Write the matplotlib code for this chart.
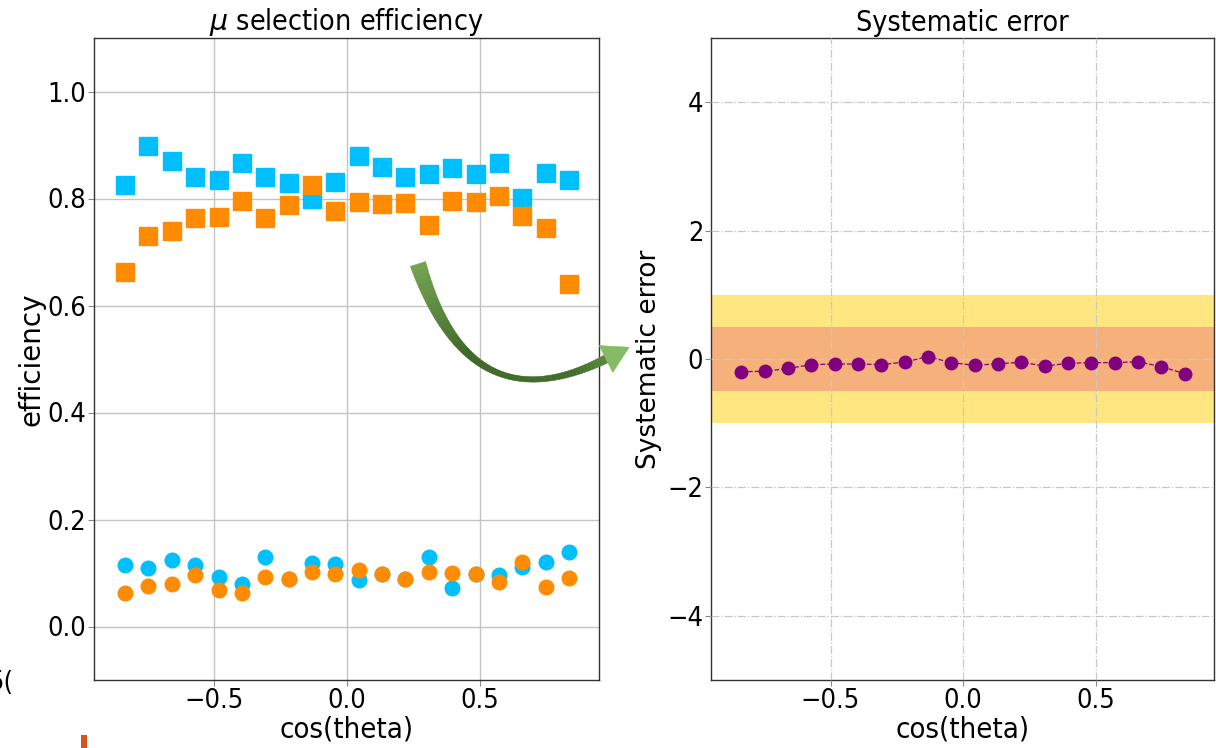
import os
import numpy as np
import matplotlib
matplotlib.use("Agg")
import matplotlib.pyplot as plt
from matplotlib import font_manager
from matplotlib.font_manager import FontProperties
from matplotlib.patches import Rectangle, Polygon
from matplotlib.colors import to_rgb

# ---------------- data ----------------
cos_theta = [-0.836, -0.748, -0.660, -0.572, -0.484, -0.396, -0.308, -0.220, -0.132, -0.044,
             0.044, 0.132, 0.220, 0.308, 0.396, 0.484, 0.572, 0.660, 0.748, 0.836]

eff_blue_squares = [0.826, 0.898, 0.871, 0.840, 0.835, 0.866, 0.840, 0.829, 0.799, 0.830,
                    0.880, 0.858, 0.840, 0.845, 0.857, 0.845, 0.867, 0.801, 0.848, 0.835]
eff_orange_squares = [0.662, 0.730, 0.740, 0.764, 0.766, 0.795, 0.763, 0.787, 0.825, 0.777,
                      0.793, 0.790, 0.791, 0.751, 0.796, 0.793, 0.804, 0.767, 0.745, 0.641]
eff_blue_circles = [0.115, 0.109, 0.125, 0.115, 0.092, 0.080, 0.130, 0.088, 0.119, 0.117,
                    0.087, 0.098, 0.088, 0.130, 0.072, 0.098, 0.097, 0.112, 0.120, 0.139]
eff_orange_circles = [0.062, 0.076, 0.079, 0.096, 0.069, 0.063, 0.092, 0.088, 0.102, 0.099,
                      0.105, 0.099, 0.088, 0.102, 0.100, 0.099, 0.084, 0.120, 0.074, 0.090]

systematic_error = [-0.197, -0.192, -0.146, -0.088, -0.078, -0.078, -0.088, -0.047, 0.037, -0.057,
                    -0.099, -0.073, -0.052, -0.109, -0.068, -0.057, -0.057, -0.042, -0.119, -0.229]

band_outer = (-1.0, 1.0)
band_inner = (-0.5, 0.5)

x_ticks = [-0.5, 0.0, 0.5]
eff_ticks = [0.0, 0.2, 0.4, 0.6, 0.8, 1.0]
sys_ticks = [-4, -2, 0, 2, 4]

# ---------------- fonts ----------------
cond_path = None
for f in font_manager.fontManager.ttflist:
    if os.path.basename(f.fname) == "DejaVuSansCondensed.ttf":
        cond_path = f.fname
        break
if cond_path:
    def fp(size):
        return FontProperties(fname=cond_path, size=size)
    TICK, TITLE, XL = 19.5, 20.5, 21
else:
    def fp(size):
        return FontProperties(family="DejaVu Sans", size=size)
    TICK, TITLE, XL = 18, 19, 19

BLUE = "#00BFFF"
ORANGE = "#FF8C00"
PURPLE = "#800080"

W, H = 1216, 748
fig = plt.figure(figsize=(W / 100, H / 100), dpi=100)
fig.patch.set_facecolor("white")

ax1 = fig.add_axes([94 / W, 68 / H, 505 / W, 642 / H])
ax2 = fig.add_axes([711 / W, 68 / H, 503 / W, 642 / H])

# ---------------- left panel ----------------
ax1.plot(cos_theta, eff_blue_squares, ls="none", marker="s", ms=13, color=BLUE, mec=BLUE, zorder=3)
ax1.plot(cos_theta, eff_orange_squares, ls="none", marker="s", ms=13, color=ORANGE, mec=ORANGE, zorder=4)
ax1.plot(cos_theta, eff_blue_circles, ls="none", marker="o", ms=10.5, color=BLUE, mec=BLUE, zorder=5)
ax1.plot(cos_theta, eff_orange_circles, ls="none", marker="o", ms=10.5, color=ORANGE, mec=ORANGE, zorder=6)
ax1.set_xlim(-0.953, 0.949)
ax1.set_ylim(-0.1, 1.1)
ax1.set_xticks(x_ticks)
ax1.set_yticks(eff_ticks)
ax1.set_yticklabels([f"{v:.1f}" for v in eff_ticks])
ax1.set_xticklabels(["\u22120.5", "0.0", "0.5"])
ax1.grid(True, color="#c4c4c4", lw=1.0, ls="-")
ax1.set_axisbelow(True)
ax1.set_title(r"$\mu$ selection efficiency", fontproperties=fp(TITLE), pad=5)
ax1.set_xlabel("cos(theta)", fontproperties=fp(XL))
ax1.set_ylabel("efficiency", fontsize=20, family="DejaVu Sans")
ax1.yaxis.set_label_coords(-0.096, 0.5)
ax1.xaxis.set_label_coords(0.5, -0.056)

# ---------------- right panel ----------------
ax2.axhspan(band_outer[0], band_outer[1], color="#FFE680", lw=0, zorder=0.5)
ax2.axhspan(band_inner[0], band_inner[1], color="#F5B07B", lw=0, zorder=0.6)
ax2.plot(cos_theta, systematic_error, ls="--", lw=0.9, color=PURPLE, marker="o", ms=9,
         mfc=PURPLE, mec=PURPLE, zorder=3)
ax2.set_xlim(-0.951, 0.947)
ax2.set_ylim(-5, 5)
ax2.set_xticks(x_ticks)
ax2.set_yticks(sys_ticks)
ax2.set_xticklabels(["\u22120.5", "0.0", "0.5"])
ax2.set_yticklabels(["\u22124", "\u22122", "0", "2", "4"])
ax2.grid(True, color="#c8c8c8", lw=0.9, ls="-.")
ax2.set_axisbelow(False)
for gl in ax2.get_xgridlines() + ax2.get_ygridlines():
    gl.set_zorder(1)
ax2.set_title("Systematic error", fontproperties=fp(TITLE), pad=5)
ax2.set_xlabel("cos(theta)", fontproperties=fp(XL))
ax2.set_ylabel("Systematic error", fontsize=19, family="DejaVu Sans")
ax2.yaxis.set_label_coords(-0.097, 0.5)
ax2.xaxis.set_label_coords(0.5, -0.056)

for ax in (ax1, ax2):
    for lbl in ax.get_xticklabels() + ax.get_yticklabels():
        lbl.set_fontproperties(fp(TICK))
    ax.tick_params(direction="out", length=4, width=0.8, color="#888888", pad=1.5)
    for s in ax.spines.values():
        s.set_color("#333333")
        s.set_linewidth(1.0)

# ---------------- decorations: curved gradient arrow ----------------
def fc(x, y):
    return (x / W, 1 - y / H)

P0 = np.array([418.0, 264.0])
C = np.array([470.0, 428.0])
P2 = np.array([606.0, 359.0])
N = 70
ts = np.linspace(0, 1, N + 1)
pts = np.array([(1 - t) ** 2 * P0 + 2 * (1 - t) * t * C + t ** 2 * P2 for t in ts])
tang = np.array([2 * (1 - t) * (C - P0) + 2 * t * (P2 - C) for t in ts])
tang /= np.linalg.norm(tang, axis=1)[:, None]
norm = np.stack([-tang[:, 1], tang[:, 0]], axis=1)
wid = 3.5 + 12.5 * (1 - ts) ** 2.5 + 5.0 * ts ** 4
left = pts + norm * wid[:, None] / 2
right = pts - norm * wid[:, None] / 2

stops_t = [0.0, 0.3, 0.75, 1.0]
stops_c = [to_rgb("#74a352"), to_rgb("#3e6826"), to_rgb("#426d2a"), to_rgb("#7fb35c")]

def grad(t):
    return tuple(np.interp(t, stops_t, [c[i] for c in stops_c]) for i in range(3))

for i in range(N):
    quad = [left[i], left[i + 1], right[i + 1], right[i]]
    col = grad((ts[i] + ts[i + 1]) / 2 * 0.85)
    fig.add_artist(Polygon([fc(*p) for p in quad], closed=True, transform=fig.transFigure,
                           facecolor=col, edgecolor=col, lw=0.4, zorder=10))

d = tang[-1]
nrm = norm[-1]
tip = P2 + d * 26
hb1 = P2 + nrm * 15
hb2 = P2 - nrm * 15
fig.add_artist(Polygon([fc(*hb1), fc(*tip), fc(*hb2)], closed=True, transform=fig.transFigure,
                       facecolor="#86bb63", edgecolor="#86bb63", lw=0.4, zorder=10))

# cropped fragments at the screenshot edges
fig.text(13 / W, 1 - 683 / H, "5(", ha="right", va="center", fontproperties=fp(TICK))
fig.add_artist(Rectangle(fc(81, 748), 6 / W, 13 / H, transform=fig.transFigure,
                         color="#D9531E", lw=0))

fig.savefig("out.png", dpi=100, facecolor="white")
